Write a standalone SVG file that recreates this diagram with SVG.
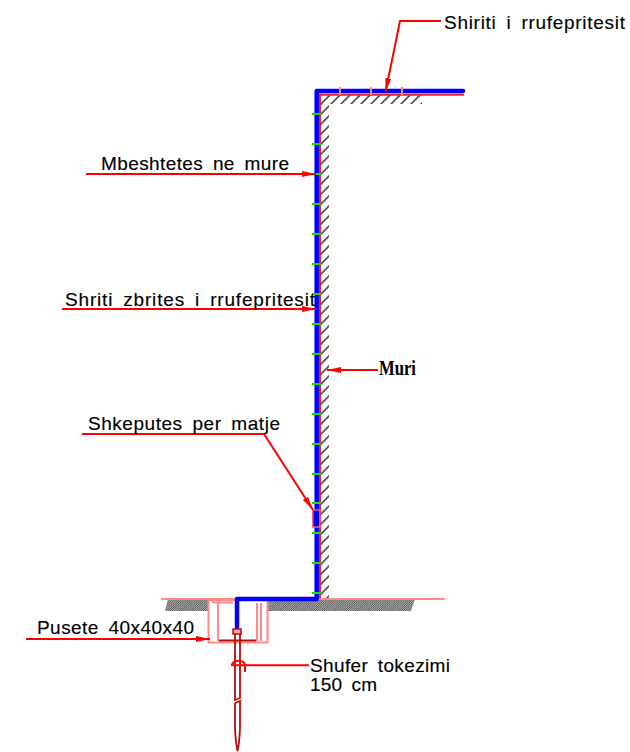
<svg xmlns="http://www.w3.org/2000/svg" width="630" height="752" viewBox="0 0 630 752">
<style>
.t{font-family:"Liberation Sans",Arial,sans-serif;font-size:19px;fill:#000;word-spacing:4px;stroke:#000;stroke-width:.15}
.m{font-family:"Liberation Serif","DejaVu Serif",serif;font-size:20px;font-weight:bold;fill:#000}
.lead{fill:none;stroke:#f00;stroke-width:2}
.blue{fill:none;stroke:#00f;stroke-width:4.500;stroke-linejoin:round;stroke-linecap:round}
.red{fill:none;stroke:#e8202a;stroke-width:2}
.pink{fill:none;stroke:#ff8a8a;stroke-width:2}
.dark{fill:none;stroke:#b80c0c;stroke-width:1.800}
.green{stroke:#10e010;stroke-width:2.200}
</style>
<defs>
<pattern id="h" width="10" height="10" patternUnits="userSpaceOnUse" patternTransform="translate(0,5)">
<path d="M-2 12L12 -2" stroke="#555" stroke-width="1.800"/><path d="M-2 2L2 -2M8 12L12 8" stroke="#555" stroke-width="1.800"/>
</pattern>
<pattern id="g" width="2.200" height="2.200" patternUnits="userSpaceOnUse">
<path d="M-1 3.200L3.200 -1M-1 1L1 -1M1.200 3.200L3.200 1.200" stroke="#444" stroke-width="1"/>
</pattern>
<marker id="a" viewBox="0 0 14 6" refX="14" refY="3" markerWidth="14" markerHeight="6" markerUnits="userSpaceOnUse" orient="auto"><path d="M0 0L14 3L0 6Z" fill="#f00"/></marker>
</defs>
<g id="wall">
<rect x="320" y="95" width="102" height="9" fill="url(#h)"/>
<rect x="320" y="104" width="9" height="495" fill="url(#h)"/>
<path d="M165 599H208V611H165L168 599Z" fill="url(#g)"/>
<path d="M268 599H415L411 611H268Z" fill="url(#g)"/>
<path class="red" d="M464 94.700H320V599"/>
</g>
<g id="ground"><path class="pink" d="M161 599H445" stroke-width="1.500"/></g>
<g id="pit">
<rect class="pink" x="208.500" y="600" width="59" height="42.500"/>
<path class="pink" d="M218 603V641M257 603V641M261 603V641M213 602.500H233M213 600V603"/>
<path d="M219 640.500H256" stroke="#b80c0c" stroke-width="1.800"/>
</g>
<g id="conductor">
<path class="blue" d="M463 91H316.700V599H237V627"/>
<rect x="312.800" y="510" width="7" height="17" fill="#00f" stroke="#f06070" stroke-width="1.500"/>
</g>
<g id="ticks">
<path class="pink" d="M340 87V95M371 87V95M402 87V95"/>
<path class="green" d="M312 114H321M312 144H321M312 174H321M312 204H321M312 234H321M312 264H321M312 294H321M312 324H321M312 354H321M312 384H321M312 414H321M312 444H321M312 474H321M312 503H321M312 533H321M312 563H321M312 593H321"/>
</g>
<g id="rod">
<rect x="233" y="629" width="8" height="5" fill="#f5a0a0" stroke="#b80c0c" stroke-width="1.500"/>
<path class="dark" d="M235 634V700L240 698V634M235 703L240 701V728M235 703V728Q235.500 742 237.500 751Q239.500 742 240 728"/>
</g>
<g id="connectors">
<path class="lead" d="M441 21H400L385.500 92" marker-end="url(#a)"/>
<path class="lead" d="M86 174H316" marker-end="url(#a)"/>
<path class="lead" d="M62 309H316" marker-end="url(#a)"/>
<path class="lead" d="M378 370H327" marker-end="url(#a)"/>
<path class="lead" d="M82 434H264L313 510" marker-end="url(#a)"/>
<path class="lead" d="M26 639H210" marker-end="url(#a)"/>
<path class="lead" d="M309 665.300H231M232 665.300A6.500 4.500 0 0 1 245 665.300V672"/>
</g>
<g id="labels">
<text class="t" x="444" y="29" textLength="181">Shiriti i rrufepritesit</text>
<text class="t" x="101" y="169.500" textLength="188">Mbeshtetes ne mure</text>
<text class="t" x="65" y="306" textLength="250">Shriti zbrites i rrufepritesit</text>
<text class="m" x="379" y="375" textLength="37" lengthAdjust="spacingAndGlyphs">Muri</text>
<text class="t" x="88" y="430" textLength="192">Shkeputes per matje</text>
<text class="t" x="37" y="634" textLength="157">Pusete 40x40x40</text>
<text class="t" x="310" y="672" textLength="140">Shufer tokezimi</text>
<text class="t" x="310" y="691" textLength="67">150 cm</text>
</g>
</svg>
